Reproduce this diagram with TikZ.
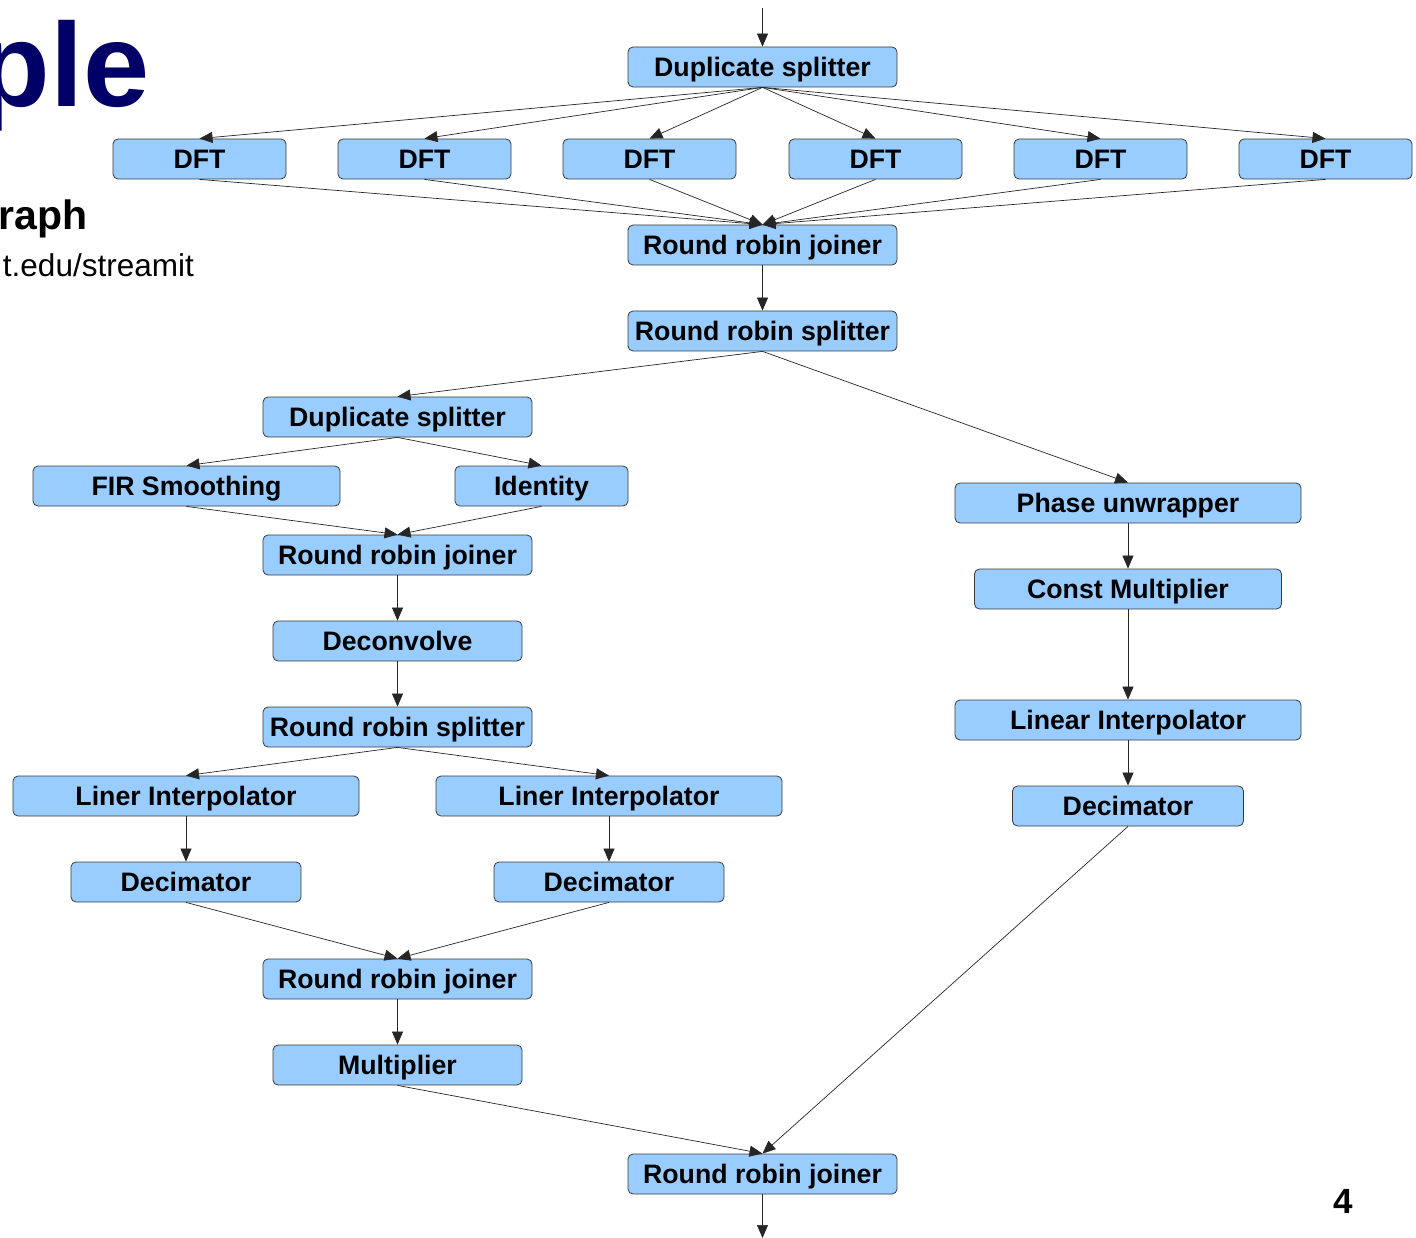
\documentclass[tikz,border=0pt]{standalone}
\usepackage{fontspec}
\setmainfont{Liberation Sans}
\usetikzlibrary{arrows.meta}
\definecolor{boxblue}{HTML}{99CCFF}
\definecolor{boxedge}{HTML}{3A3A3A}
\definecolor{titlenavy}{HTML}{000066}
\begin{document}
\begin{tikzpicture}[x=1pt,y=-1pt,
  blk/.style={rectangle, rounded corners=5pt, fill=boxblue, draw=boxedge,
    line width=0.8pt, minimum height=40pt, inner sep=0pt,
    text height=19pt, text depth=0pt,
    font=\fontsize{26.7}{30}\selectfont\bfseries, text=black},
  arr/.style={draw=black!85, line width=0.7pt,
    -{Triangle[length=13pt,width=11pt]}}]
\useasboundingbox (0,0) rectangle (1416,1238);

% slide text
\node[anchor=base east, inner sep=0pt, text=titlenavy,
  font=\fontsize{119}{130}\selectfont\bfseries] (title) at (150,107) {ple};
\node[anchor=base east, inner sep=0pt,
  font=\fontsize{41}{46}\selectfont\bfseries] (sub) at (88,230) {raph};
\node[anchor=base east, inner sep=0pt,
  font=\fontsize{31.5}{36}\selectfont] (url) at (194,277) {t.edu/streamit};
\node[inner sep=0pt, font=\fontsize{35}{40}\selectfont\bfseries] (pg) at (1343,1201) {4};

% stream graph
\coordinate (in) at (762.5,8);
\node[blk, minimum width=269pt] (ds) at (762.5,67) {Duplicate splitter};
\foreach \i/\x in {1/199.5,2/424.5,3/649.5,4/875.5,5/1100.5,6/1325.5}
  \node[blk, minimum width=173pt] (dft\i) at (\x,159) {DFT};
\node[blk, minimum width=269pt] (rrj) at (762.5,245) {Round robin joiner};
\node[blk, minimum width=269pt] (rrs) at (762.5,331) {Round robin splitter};

\node[blk, minimum width=269pt] (ds2) at (397.5,417) {Duplicate splitter};
\node[blk, minimum width=307pt] (fir) at (186.5,486) {FIR Smoothing};
\node[blk, minimum width=173pt] (idn) at (541.5,486) {Identity};
\node[blk, minimum width=269pt] (rrj2) at (397.5,555) {Round robin joiner};
\node[blk, minimum width=249pt] (dec) at (397.5,641) {Deconvolve};
\node[blk, minimum width=269pt] (rrs2) at (397.5,727) {Round robin splitter};
\node[blk, minimum width=346pt] (li1) at (186,796) {Liner Interpolator};
\node[blk, minimum width=346pt] (li2) at (609,796) {Liner Interpolator};
\node[blk, minimum width=230pt] (dm1) at (186,882) {Decimator};
\node[blk, minimum width=230pt] (dm2) at (609,882) {Decimator};
\node[blk, minimum width=269pt] (rrj3) at (397.5,979) {Round robin joiner};
\node[blk, minimum width=249pt] (mul) at (397.5,1065) {Multiplier};

\node[blk, minimum width=346pt] (pu) at (1128,503) {Phase unwrapper};
\node[blk, minimum width=307pt] (cm) at (1128,589) {Const Multiplier};
\node[blk, minimum width=346pt] (lin) at (1128,720) {Linear Interpolator};
\node[blk, minimum width=231pt] (dm3) at (1128,806) {Decimator};

\node[blk, minimum width=269pt] (out) at (762.5,1174) {Round robin joiner};
\coordinate (sink) at (762.5,1238);

% connectors
\draw[arr] (in) -- (ds.north);
\foreach \i in {1,...,6} {
  \draw[arr] (ds.south) -- (dft\i.north);
  \draw[arr] (dft\i.south) -- (rrj.north);
}
\draw[arr] (rrj) -- (rrs);
\draw[arr] (rrs.south) -- (ds2.north);
\draw[arr] (rrs.south) -- (pu.north);
\draw[arr] (ds2.south) -- (fir.north);
\draw[arr] (ds2.south) -- (idn.north);
\draw[arr] (fir.south) -- (rrj2.north);
\draw[arr] (idn.south) -- (rrj2.north);
\draw[arr] (rrj2) -- (dec);
\draw[arr] (dec) -- (rrs2);
\draw[arr] (rrs2.south) -- (li1.north);
\draw[arr] (rrs2.south) -- (li2.north);
\draw[arr] (li1) -- (dm1);
\draw[arr] (li2) -- (dm2);
\draw[arr] (dm1.south) -- (rrj3.north);
\draw[arr] (dm2.south) -- (rrj3.north);
\draw[arr] (rrj3) -- (mul);
\draw[arr] (pu) -- (cm);
\draw[arr] (cm) -- (lin);
\draw[arr] (lin) -- (dm3);
\draw[arr] (mul.south) -- (out.north);
\draw[arr] (dm3.south) -- (out.north);
\draw[arr] (out.south) -- (sink);
\end{tikzpicture}
\end{document}
